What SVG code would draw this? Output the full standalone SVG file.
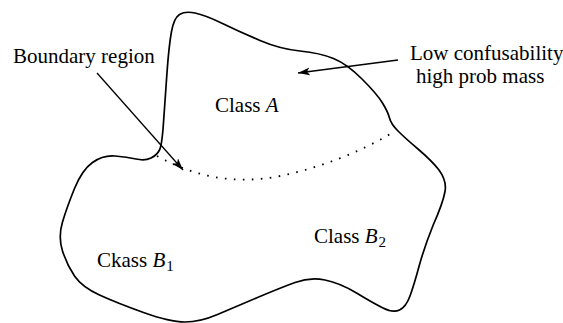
<svg xmlns="http://www.w3.org/2000/svg" width="563" height="323" viewBox="0 0 563 323">
<defs>
<style>
.t{font-family:"Liberation Serif","Times New Roman",serif;font-size:21px;fill:#000}
.i{font-style:italic}
.outline{fill:none;stroke:#000;stroke-width:1.7;stroke-linejoin:round}
.arrow{fill:none;stroke:#000;stroke-width:1.3}
.dots{fill:none;stroke:#000;stroke-width:1.8;stroke-dasharray:1.6 7.4;stroke-linecap:butt}
</style>
<marker id="ah" markerUnits="userSpaceOnUse" markerWidth="14" markerHeight="10" refX="12" refY="4" orient="auto">
<path d="M0,0 L12,4 L0,8 L3,4 z" fill="#000"/>
</marker>
</defs>
<g id="region">
<path class="outline" d="M159.5,150 Q162,145 163.5,122.5 Q165,100 167,72.5 Q169,45 171.5,31.5 Q174,18 179.5,14.5 Q185,11 195,13 Q205,15 222.5,23.5 Q240,32 260,40.5 Q280,49 300,51 Q320,53 333.5,58.5 Q347,64 362,79 Q377,94 382.5,103 Q388,112 389.5,118 Q391,124 398,131 Q405,138 418,149 Q432,161 439,170 Q447,181 445,191.5 Q443,203 433,225.5 Q424,248 419,266.5 Q414,285 410,296 Q406,307 399.5,310 Q393,313 383,308 Q373,303 356.5,293 Q340,283 325,280 Q310,277 295,282.5 Q280,288 257.5,297.5 Q235,307 217.5,314.5 Q200,322 185,322 Q170,322 143.5,312.5 Q117,303 99.5,295 Q82,287 74.5,276 Q67,265 62.5,251 Q58,237 62.5,222 Q67,207 74.5,188.5 Q82,170 92.5,162.5 Q103,155 115,156 Q127,157 136,159 Q145,161 151,158 Q157,155 159.5,150 Z"/>
<path class="dots" d="M157,156 C195,177 235,185 280,176 C320,168 360,152 392,133"/>
</g>
<g id="connectors">
<line class="arrow" x1="97" y1="73" x2="183" y2="170" marker-end="url(#ah)"/>
<line class="arrow" x1="398" y1="60" x2="298" y2="73" marker-end="url(#ah)"/>
</g>
<g id="label-boundary"><text class="t" x="13" y="63">Boundary region</text></g>
<g id="label-low"><text class="t" x="410" y="60">Low confusability</text><text class="t" x="416" y="83">high prob mass</text></g>
<g id="class-a"><text class="t" x="215" y="112">Class <tspan class="i">A</tspan></text></g>
<g id="class-b1"><text class="t" x="97" y="267">Ckass <tspan class="i">B</tspan><tspan font-size="15" dx="1" dy="4">1</tspan></text></g>
<g id="class-b2"><text class="t" x="314" y="243">Class <tspan class="i">B</tspan><tspan font-size="15" dx="1" dy="4">2</tspan></text></g>
</svg>
